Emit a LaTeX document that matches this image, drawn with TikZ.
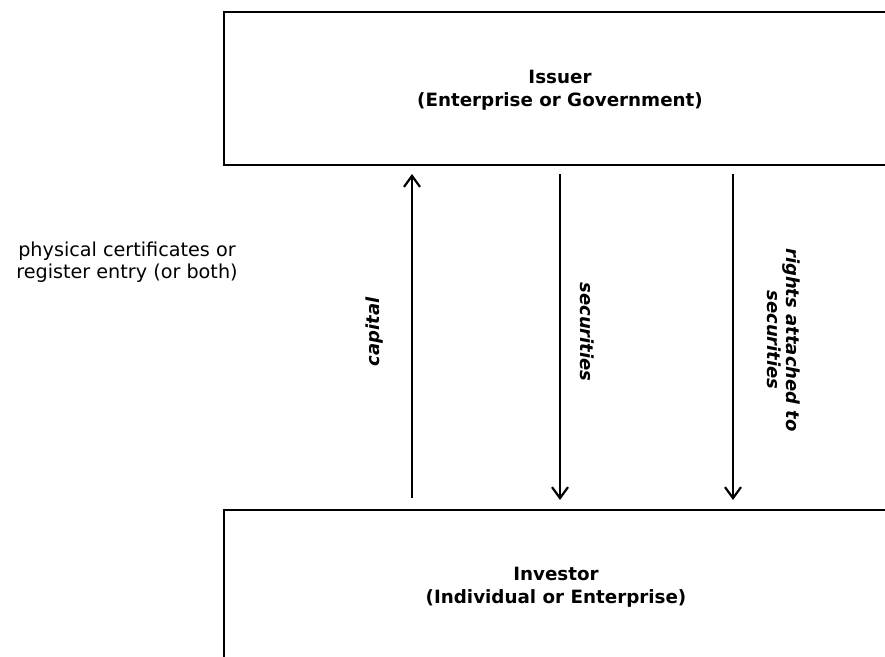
\documentclass[tikz,border=0pt]{standalone}
\usepackage{fontspec}
\setmainfont{DejaVu Sans}
\usetikzlibrary{arrows.meta}
\begin{document}
\begin{tikzpicture}[x=1pt,y=-1pt,
  box/.style={draw, line width=2.5pt, rectangle, inner sep=0pt, outer sep=0pt},
  title/.style={font=\fontsize{18.3}{23}\selectfont\bfseries, align=center},
  flow/.style={line width=2.2pt, -{Straight Barb[length=11pt,width=16pt,line width=2.2pt]}},
  lbl/.style={font=\fontsize{18}{19}\selectfont\bfseries\itshape, align=center},
  note/.style={font=\fontsize{19.2}{21.5}\selectfont, align=center}]
\begin{scope}
\clip (0,0) rectangle (885,656);
\node[box, minimum width=700pt, minimum height=153pt, anchor=north west] (issuer) at (224,12) {};
\node[box, minimum width=700pt, minimum height=200pt, anchor=north west] (investor) at (224,510) {};
\end{scope}
\node[title] (issuertext) at (560,90) {Issuer\\(Enterprise or Government)};
\node[title] (investortext) at (556,587) {Investor\\(Individual or Enterprise)};
\coordinate (capx) at (412,0);
\coordinate (secx) at (560,0);
\coordinate (rigx) at (733,0);
\draw[flow, shorten <=12pt, shorten >=9pt] (capx |- investor.north) -- (capx |- issuer.south);
\draw[flow, shorten <=9pt, shorten >=10pt] (secx |- issuer.south) -- (secx |- investor.north);
\draw[flow, shorten <=9pt, shorten >=10pt] (rigx |- issuer.south) -- (rigx |- investor.north);
\node[lbl, rotate=90] (capl) at (375,332) {capital};
\node[lbl, rotate=-90] (secl) at (587,332) {securities};
\node[lbl, rotate=-90] (rightsl) at (784,340) {rights attached to\\securities};
\node[note] (note) at (127,262) {physical certificates or\\register entry (or both)};
\pgfresetboundingbox
\useasboundingbox (0,0) rectangle (885,656);
\end{tikzpicture}
\end{document}
